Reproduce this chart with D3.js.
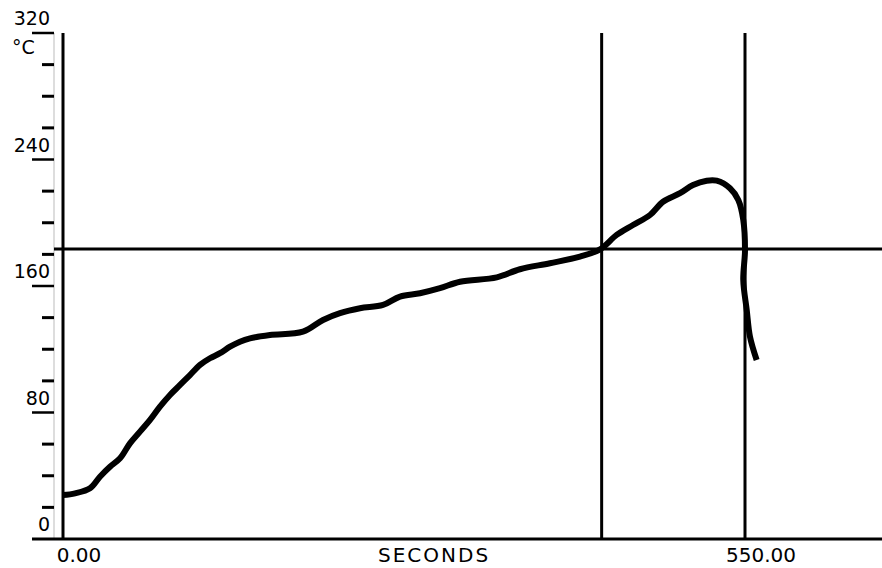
<!DOCTYPE html>
<meta charset="utf-8">
<style>
  body { margin: 0; background: #fff; }
  text { font-family: "DejaVu Sans", sans-serif; fill: #000; }
</style>
<body>
<script src="https://d3js.org/d3.v7.min.js"></script>
<script>

  // temperature profile (seconds, °C)
  var seconds = [0, 9.7, 21.8, 29.8, 37.9, 46.0, 54.0, 62.1, 70.2, 78.2, 86.3, 94.4,
    102.4, 110.5, 118.5, 126.6, 134.7, 142.7, 150.8, 166.9, 193.5, 209.7, 223.4,
    239.5, 258.1, 271.8, 287.9, 304.0, 320.2, 349.8, 368.5, 392.7, 416.9, 433.1,
    446.5, 459.7, 473.4, 483.9, 497.6, 508.1, 519.1, 527.2, 537.9, 544.6, 548.6,
    550.0, 548.6, 551.4, 554.0, 559.4];
  var temps = [27.8, 28.9, 32.1, 39.4, 45.7, 51.0, 60.5, 67.9, 75.3, 83.7, 91.1, 97.4,
    103.7, 110.1, 114.3, 117.5, 121.6, 124.8, 126.9, 129.0, 131.1, 138.5, 142.8,
    145.9, 148.0, 153.3, 155.4, 158.6, 162.7, 165.5, 170.6, 174.4, 178.6, 183.2,
    192.3, 198.6, 204.9, 213.3, 218.7, 223.9, 226.6, 226.6, 221.8, 214.4, 201.8,
    182.8, 163.8, 144.8, 128.0, 113.2];

  // cursors
  var cursorTimes = [434.4, 550];
  var cursorTemp = 183.4;

  var yMajor = [0, 80, 160, 240, 320];
  var yMinor = d3.range(0, 321, 20);
  var xTicks = [0, 550];

  var width = 882, height = 568;

  var x = d3.scaleLinear().domain([0, 550]).range([63, 745]);
  var y = d3.scaleLinear().domain([0, 320]).range([539, 33]);

  var svg = d3.select("body").append("svg")
    .attr("width", width)
    .attr("height", height);

  // tick ruler
  svg.append("line")
    .attr("x1", 54).attr("x2", 54)
    .attr("y1", y(320)).attr("y2", y(0))
    .attr("stroke", "#bbb").attr("stroke-width", 1);

  svg.selectAll(".minor")
    .data(yMinor.filter(function (d) { return yMajor.indexOf(d) < 0; }))
    .enter().append("line")
    .attr("class", "minor")
    .attr("x1", 42).attr("x2", 54)
    .attr("y1", function (d) { return y(d); })
    .attr("y2", function (d) { return y(d); })
    .attr("stroke", "#000").attr("stroke-width", 3);

  svg.selectAll(".major")
    .data(yMajor.filter(function (d) { return d > 0; }))
    .enter().append("line")
    .attr("class", "major")
    .attr("x1", 32).attr("x2", 54)
    .attr("y1", function (d) { return y(d); })
    .attr("y2", function (d) { return y(d); })
    .attr("stroke", "#000").attr("stroke-width", 2.5);

  svg.selectAll(".ylab")
    .data(yMajor)
    .enter().append("text")
    .attr("class", "ylab")
    .attr("x", 50)
    .attr("y", function (d) { return y(d) - 8; })
    .attr("text-anchor", "end")
    .style("font-size", "19px")
    .text(function (d) { return d; });

  svg.append("text")
    .attr("x", 12).attr("y", 54)
    .style("font-size", "19px")
    .text("°C");

  // axes
  svg.append("line")
    .attr("x1", 63).attr("x2", 63)
    .attr("y1", y(320)).attr("y2", y(0))
    .attr("stroke", "#000").attr("stroke-width", 3);
  svg.append("line")
    .attr("x1", 32).attr("x2", width)
    .attr("y1", y(0)).attr("y2", y(0))
    .attr("stroke", "#000").attr("stroke-width", 3);

  svg.selectAll(".xlab")
    .data(xTicks)
    .enter().append("text")
    .attr("class", "xlab")
    .attr("x", function (d) { return x(d) + 16; })
    .attr("y", 562)
    .attr("text-anchor", "middle")
    .style("font-size", "20px")
    .text(function (d) { return d.toFixed(2); });

  svg.append("text")
    .attr("x", 378).attr("y", 562)
    .style("font-size", "20px")
    .style("letter-spacing", "2px")
    .text("SECONDS");

  // cursor lines
  svg.selectAll(".vcur")
    .data(cursorTimes)
    .enter().append("line")
    .attr("class", "vcur")
    .attr("x1", function (d) { return x(d); })
    .attr("x2", function (d) { return x(d); })
    .attr("y1", y(320)).attr("y2", y(0))
    .attr("stroke", "#000").attr("stroke-width", 3);

  svg.append("line")
    .attr("x1", 54).attr("x2", width)
    .attr("y1", y(cursorTemp)).attr("y2", y(cursorTemp))
    .attr("stroke", "#000").attr("stroke-width", 3);

  // the trace
  var line = d3.line()
    .x(function (d, i) { return x(seconds[i]); })
    .y(function (d) { return y(d); })
    .curve(d3.curveCatmullRom);

  svg.append("path")
    .datum(temps)
    .attr("fill", "none")
    .attr("stroke", "#000")
    .attr("stroke-width", 6)
    .attr("stroke-linejoin", "round")
    .attr("d", line);

</script>
</body>
